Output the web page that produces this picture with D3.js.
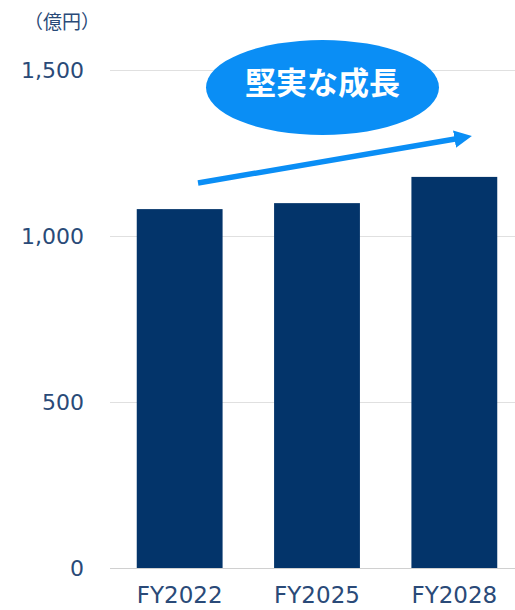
<!DOCTYPE html>
<html>
<head>
<meta charset="utf-8">
<script src="https://cdn.jsdelivr.net/npm/d3@7"></script>
<style>
  html, body { margin: 0; padding: 0; background: #fff; }
  svg { display: block; }
</style>
</head>
<body>
<div id="chart"></div>
<script>
// FY revenue bars (億円) with a "steady growth" callout

const years = ["FY2022", "FY2025", "FY2028"];
const values = [1081, 1099, 1178];
const yTicks = [0, 500, 1000, 1500];
const unitLabel = "（億円）";
const calloutText = "堅実な成長";

const width = 515;
const height = 610;

const svg = d3.select("#chart").append("svg")
  .attr("width", width)
  .attr("height", height);

const x = d3.scaleBand()
  .domain(years)
  .range([111, 523])
  .paddingInner(0.375)
  .paddingOuter(0.1875);

const y = d3.scaleLinear()
  .domain([0, 1500])
  .range([568, 70]);

const textColor = "#2a4a78";

// gridlines
svg.append("g")
  .selectAll("line")
  .data(yTicks)
  .join("line")
  .attr("x1", 110)
  .attr("x2", width)
  .attr("y1", (d) => y(d) + 0.5)
  .attr("y2", (d) => y(d) + 0.5)
  .attr("stroke", (d) => (d === 0 ? "#d0d0d0" : "#e0e0e0"))
  .attr("stroke-width", 1.2);

// y tick labels
svg.append("g")
  .selectAll("text")
  .data(yTicks)
  .join("text")
  .attr("x", 84)
  .attr("y", (d) => y(d))
  .attr("dy", "0.36em")
  .attr("text-anchor", "end")
  .attr("font-family", "DejaVu Sans, Verdana, sans-serif")
  .attr("font-size", 22)
  .attr("fill", textColor)
  .text((d) => d3.format(",")(d));

// unit
svg.append("text")
  .attr("x", 62)
  .attr("y", 22)
  .attr("dy", "0.36em")
  .attr("text-anchor", "middle")
  .attr("font-family", "Noto Sans CJK JP, sans-serif")
  .attr("font-size", 19)
  .attr("fill", textColor)
  .text(unitLabel);

// bars
svg.append("g")
  .selectAll("rect")
  .data(values)
  .join("rect")
  .attr("x", (d, i) => x(years[i]))
  .attr("y", (d) => y(d))
  .attr("width", x.bandwidth())
  .attr("height", (d) => y(0) - y(d))
  .attr("fill", "#03346a");

// x labels
svg.append("g")
  .selectAll("text")
  .data(years)
  .join("text")
  .attr("x", (d) => x(d) + x.bandwidth() / 2)
  .attr("y", 603)
  .attr("text-anchor", "middle")
  .attr("font-family", "DejaVu Sans, Verdana, sans-serif")
  .attr("font-size", 23)
  .attr("fill", textColor)
  .text((d) => d);

// growth arrow
const defs = svg.append("defs");
defs.append("marker")
  .attr("id", "head")
  .attr("viewBox", "0 0 10 10")
  .attr("refX", 2)
  .attr("refY", 5)
  .attr("markerWidth", 3.2)
  .attr("markerHeight", 3.2)
  .attr("orient", "auto")
  .append("path")
  .attr("d", "M0,0 L10,5 L0,10 Z")
  .attr("fill", "#0a8ef5");

svg.append("line")
  .attr("x1", 198)
  .attr("y1", 183)
  .attr("x2", 458)
  .attr("y2", 138.5)
  .attr("stroke", "#0a8ef5")
  .attr("stroke-width", 5.5)
  .attr("marker-end", "url(#head)");

// callout ellipse
svg.append("ellipse")
  .attr("cx", 322.5)
  .attr("cy", 87.5)
  .attr("rx", 116.5)
  .attr("ry", 47.5)
  .attr("fill", "#0a8ef5");

svg.append("text")
  .attr("x", 322.5)
  .attr("y", 83)
  .attr("dy", "0.36em")
  .attr("text-anchor", "middle")
  .attr("font-family", "Noto Sans CJK JP, sans-serif")
  .attr("font-weight", 700)
  .attr("font-size", 31)
  .attr("fill", "#fff")
  .text(calloutText);
</script>
</body>
</html>
